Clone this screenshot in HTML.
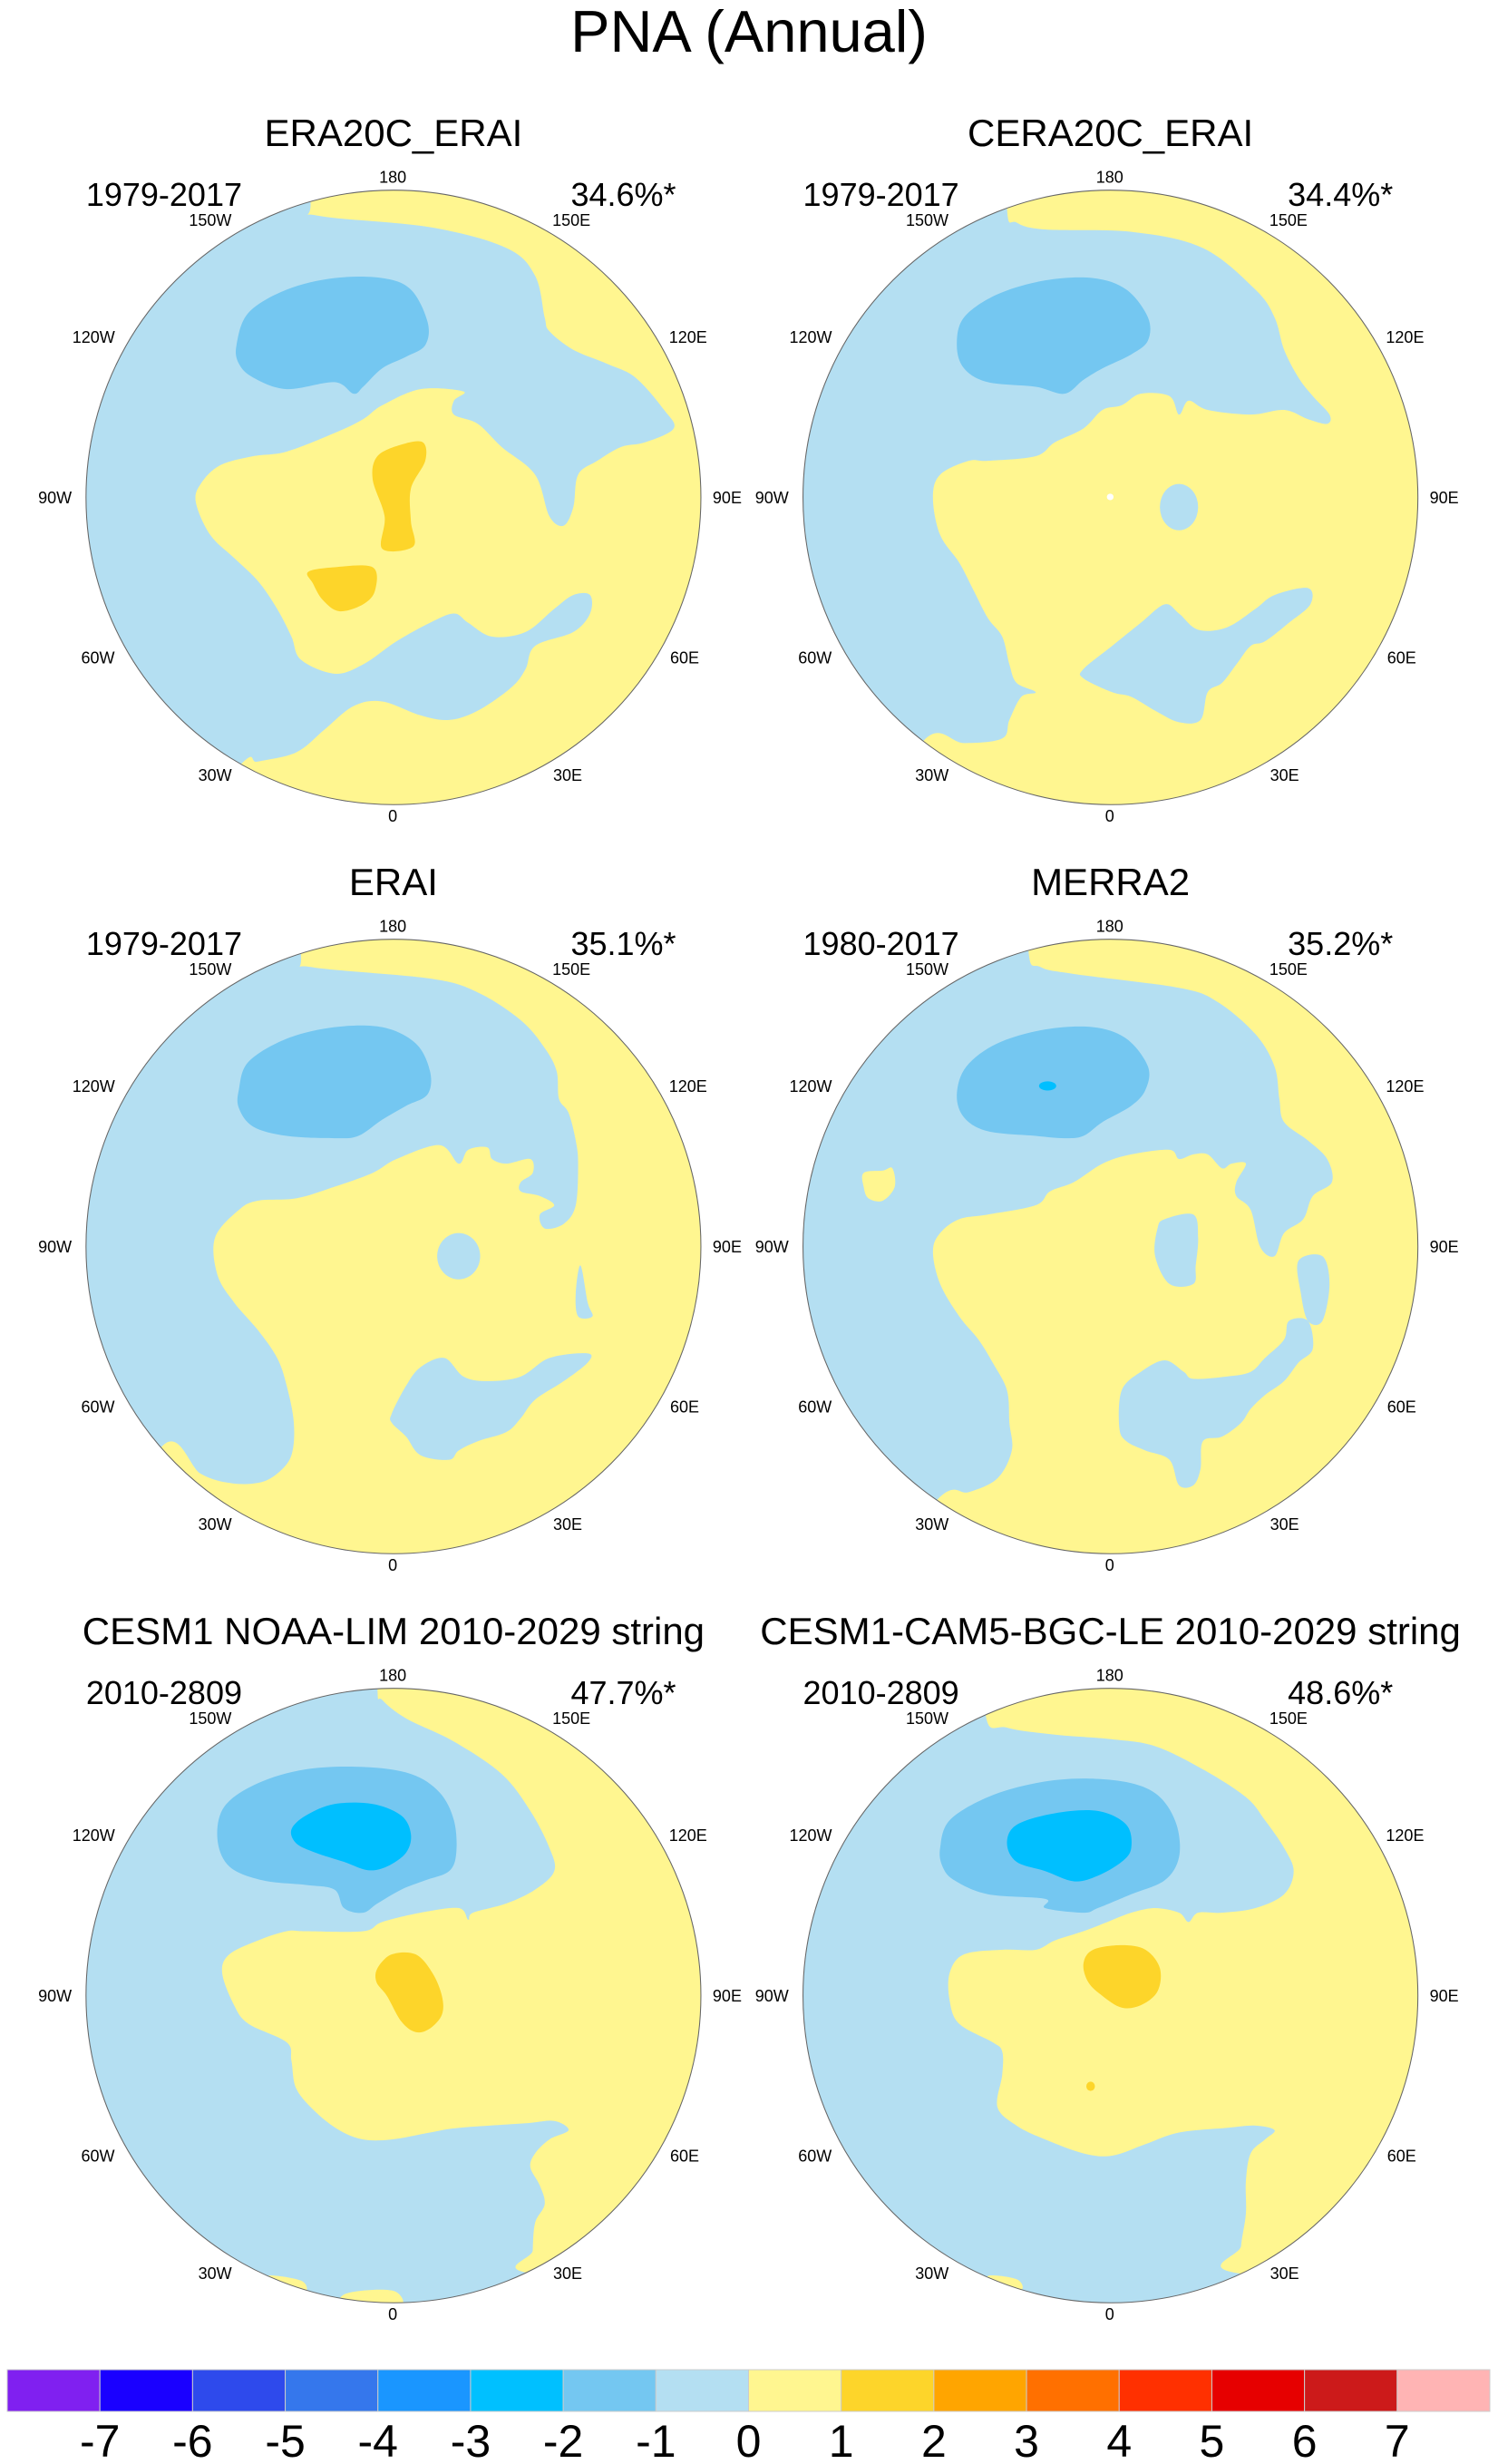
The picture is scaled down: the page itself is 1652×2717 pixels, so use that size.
<!DOCTYPE html>
<html><head><meta charset="utf-8"><style>
html,body{margin:0;padding:0;background:#fff;}
svg{display:block;font-family:"Liberation Sans",sans-serif;}
</style></head><body>
<svg id="fig" width="1652" height="2717" viewBox="0 0 1652 2717" xmlns="http://www.w3.org/2000/svg">
<defs>
<clipPath id="cL"><ellipse cx="823.5" cy="879" rx="643.5" ry="664"/></clipPath>
<clipPath id="cR"><ellipse cx="756.5" cy="879" rx="643.5" ry="664"/></clipPath>
</defs>
<text x="826" y="57" font-size="65" text-anchor="middle">PNA (Annual)</text>

<!-- Panel A -->
<g transform="translate(0,100) scale(0.5269,0.5102)">
<g clip-path="url(#cL)">
<rect x="0" y="0" width="1700" height="1700" fill="#fff690"/>
<polygon fill="#b4dff2" points="650,240 665,270 900,295 1060,340 1120,400 1140,490 1150,520 1200,560 1270,590 1330,620 1390,690 1410,730 1350,760 1300,770 1250,800 1210,830 1200,900 1180,940 1150,920 1120,830 1050,770 1000,720 950,700 950,670 970,650 880,645 800,680 760,710 700,740 600,780 530,790 460,810 420,850 410,890 440,960 490,1010 540,1060 580,1120 610,1180 630,1230 700,1260 760,1240 830,1190 900,1150 950,1130 980,1150 1030,1180 1100,1170 1160,1120 1200,1090 1235,1090 1235,1130 1200,1170 1120,1200 1100,1250 1070,1290 1000,1340 940,1360 880,1350 800,1320 740,1330 680,1380 620,1430 540,1450 500,1460 300,1700 0,1700 0,0 650,0"/>
<polygon fill="#74c7f1" points="495,550 520,480 600,430 700,405 800,405 860,430 895,500 890,550 850,575 800,600 760,640 740,655 700,630 600,645 530,620 500,590"/>
<polygon fill="#fdd52a" points="885,760 890,800 860,860 860,930 865,985 800,990 805,920 780,840 790,790 840,765"/>
<polygon fill="#fdd52a" points="645,1040 700,1030 780,1030 785,1080 760,1110 710,1125 675,1100 655,1065"/>
</g>
<ellipse cx="823.5" cy="879" rx="643.5" ry="664" fill="none" stroke="#666" stroke-width="2"/>
</g>

<!-- Panel B -->
<g transform="translate(826,100) scale(0.5269,0.5102)">
<g clip-path="url(#cR)">
<rect x="0" y="0" width="1700" height="1700" fill="#fff690"/>
<polygon fill="#b4dff2" points="540,255 560,285 620,300 800,305 950,340 1060,430 1100,490 1120,560 1150,620 1180,660 1215,700 1210,720 1170,710 1120,690 1050,700 960,690 920,670 900,700 880,660 820,655 780,680 740,690 700,730 640,760 600,790 500,800 460,800 400,830 385,880 400,960 440,1020 470,1080 500,1140 530,1180 545,1240 560,1280 600,1300 570,1310 545,1360 530,1400 450,1410 370,1400 250,1600 0,1600 0,0 540,0"/>
<polygon fill="#b4dff2" points="700,1250 760,1200 820,1150 870,1110 900,1130 940,1165 1000,1160 1060,1120 1100,1090 1170,1075 1175,1110 1130,1150 1080,1190 1050,1200 1020,1240 990,1280 960,1300 945,1360 900,1365 850,1340 800,1310 760,1300 700,1270"/>
<ellipse fill="#b4dff2" cx="900" cy="900" rx="40" ry="50"/>
<polygon fill="#74c7f1" points="435,550 450,490 520,440 620,410 720,405 790,430 835,490 835,540 800,570 740,600 700,625 660,655 600,640 500,630 450,600"/>
<ellipse fill="#fff" cx="756" cy="878" rx="7" ry="7"/>
</g>
<ellipse cx="756.5" cy="879" rx="643.5" ry="664" fill="none" stroke="#666" stroke-width="2"/>
</g>

<!-- Panel C -->
<g transform="translate(0,926) scale(0.5269,0.5102)">
<g clip-path="url(#cL)">
<rect x="0" y="0" width="1700" height="1700" fill="#fff690"/>
<polygon fill="#b4dff2" points="630,250 650,275 900,300 1000,330 1090,390 1140,450 1165,500 1170,560 1190,590 1205,650 1210,700 1205,790 1180,830 1140,840 1130,810 1160,790 1130,770 1090,760 1090,740 1115,720 1110,690 1060,700 1030,690 1020,665 980,670 960,700 920,660 830,690 780,720 700,750 620,775 540,780 500,800 450,860 455,940 490,1000 540,1060 580,1120 600,1180 615,1260 610,1330 580,1370 540,1390 480,1390 420,1370 340,1310 200,1600 0,1600 0,0 630,0"/>
<polygon fill="#b4dff2" points="820,1240 850,1180 880,1140 930,1120 970,1160 1020,1170 1090,1160 1150,1120 1230,1110 1230,1130 1180,1170 1120,1210 1090,1250 1060,1280 1000,1300 960,1320 940,1340 880,1330 850,1290 820,1260"/>
<ellipse fill="#b4dff2" cx="960" cy="900" rx="45" ry="50"/>
<polygon fill="#b4dff2" points="1215,920 1230,1000 1240,1030 1210,1030 1205,980"/>
<polygon fill="#74c7f1" points="500,540 520,480 600,430 700,405 800,405 870,440 900,500 895,550 850,575 800,605 750,640 700,645 600,640 530,620 500,580"/>
</g>
<ellipse cx="823.5" cy="879" rx="643.5" ry="664" fill="none" stroke="#666" stroke-width="2"/>
</g>

<!-- Panel D -->
<g transform="translate(826,926) scale(0.5269,0.5102)">
<g clip-path="url(#cR)">
<rect x="0" y="0" width="1700" height="1700" fill="#fff690"/>
<polygon fill="#b4dff2" points="585,240 610,275 680,290 900,320 980,350 1060,420 1100,490 1110,560 1120,610 1170,650 1210,690 1220,740 1180,770 1160,820 1120,850 1100,900 1070,880 1050,800 1020,770 1020,740 1040,700 1010,700 990,710 960,680 930,680 900,690 880,670 800,680 740,700 680,740 630,760 600,790 500,810 440,820 400,850 385,890 400,960 440,1030 480,1080 510,1130 540,1190 545,1260 550,1320 520,1380 460,1410 400,1420 250,1600 0,1600 0,0 585,0"/>
<polygon fill="#fff690" points="240,720 280,715 300,710 305,750 280,780 250,775 240,750"/>
<polygon fill="#b4dff2" points="870,820 930,810 940,860 935,920 930,960 880,960 850,900 855,840"/>
<polygon fill="#b4dff2" points="1150,910 1200,900 1215,960 1200,1040 1170,1040 1155,980"/>
<polygon fill="#b4dff2" points="780,1190 820,1150 870,1125 910,1150 930,1165 1000,1160 1050,1150 1080,1120 1120,1080 1130,1040 1170,1040 1180,1100 1150,1130 1120,1170 1080,1200 1050,1230 1030,1260 990,1290 950,1300 945,1360 930,1395 900,1395 880,1340 830,1320 790,1300 775,1270"/>
<polygon fill="#74c7f1" points="435,550 455,490 520,440 620,410 720,405 790,430 835,490 830,540 800,575 740,610 700,640 660,645 600,640 500,630 450,600"/>
<ellipse fill="#00bfff" cx="625" cy="532" rx="18" ry="10"/>
</g>
<ellipse cx="756.5" cy="879" rx="643.5" ry="664" fill="none" stroke="#666" stroke-width="2"/>
</g>

<!-- Panel E -->
<g transform="translate(0,1752) scale(0.5269,0.5102)">
<g clip-path="url(#cL)">
<rect x="0" y="0" width="1700" height="1700" fill="#b4dff2"/>
<polygon fill="#fff690" points="790,215 800,240 850,280 950,330 1050,400 1110,480 1150,560 1160,610 1120,650 1060,680 990,700 980,715 960,690 880,700 800,720 760,740 640,740 600,740 540,760 480,790 465,830 490,900 520,940 600,980 610,1020 620,1080 660,1130 710,1170 760,1190 820,1190 900,1175 960,1165 1100,1155 1160,1150 1190,1170 1150,1190 1120,1220 1110,1250 1130,1290 1140,1330 1120,1370 1115,1430 1115,1480 1600,1500 1600,0 790,0"/>
<polygon fill="#fff690" points="560,1485 630,1495 640,1520 600,1520"/>
<polygon fill="#fff690" points="720,1525 780,1515 830,1520 835,1550 720,1550"/>
<polygon fill="#74c7f1" points="455,540 470,470 540,420 640,390 760,385 860,400 920,440 950,500 955,570 940,610 890,630 840,650 790,680 760,700 720,690 700,650 640,640 550,630 480,600"/>
<polygon fill="#00bfff" points="610,520 640,490 700,465 780,465 840,490 860,530 850,570 810,600 770,608 720,590 660,570 620,550"/>
<polygon fill="#fdd52a" points="790,820 820,790 870,790 905,830 925,880 925,920 900,950 870,958 840,935 810,880 788,850"/>
</g>
<ellipse cx="823.5" cy="879" rx="643.5" ry="664" fill="none" stroke="#666" stroke-width="2"/>
</g>

<!-- Panel F -->
<g transform="translate(826,1752) scale(0.5269,0.5102)">
<g clip-path="url(#cR)">
<rect x="0" y="0" width="1700" height="1700" fill="#b4dff2"/>
<polygon fill="#fff690" points="495,270 540,300 640,315 760,325 850,340 950,390 1040,450 1080,500 1120,560 1140,610 1120,660 1060,690 990,700 940,700 920,720 900,700 850,690 800,700 750,720 700,740 640,760 600,780 530,780 450,790 420,830 420,890 440,940 510,980 530,1000 530,1050 520,1120 560,1160 620,1190 700,1220 760,1225 830,1200 900,1175 1000,1165 1060,1160 1100,1170 1080,1190 1050,1220 1040,1280 1040,1350 1030,1420 1030,1480 1600,1500 1600,0 495,0"/>
<polygon fill="#fff690" points="500,1485 560,1492 570,1515 520,1515"/>
<polygon fill="#74c7f1" points="400,560 420,500 500,450 600,420 700,410 800,420 860,450 895,510 900,580 870,630 800,660 730,690 700,700 620,690 620,670 500,660 430,630 405,600"/>
<polygon fill="#00bfff" points="540,550 560,510 640,485 730,480 790,510 800,560 780,590 730,620 680,632 620,610 560,590"/>
<polygon fill="#fdd52a" points="700,810 720,780 780,770 830,780 860,820 855,870 820,900 780,905 740,880 710,850"/>
<ellipse fill="#fdd52a" cx="715" cy="1075" rx="9" ry="10"/>
</g>
<ellipse cx="756.5" cy="879" rx="643.5" ry="664" fill="none" stroke="#666" stroke-width="2"/>
</g>

<g id="labels"></g>
<g id="colorbar"></g>
</svg>
<script>
var NS = "http://www.w3.org/2000/svg";
var panelTitles = ["ERA20C_ERAI","CERA20C_ERAI","ERAI","MERRA2","CESM1 NOAA-LIM 2010-2029 string","CESM1-CAM5-BGC-LE 2010-2029 string"];
var panelYears = ["1979-2017","1979-2017","1979-2017","1980-2017","2010-2809","2010-2809"];
var panelPcts = ["34.6%*","34.4%*","35.1%*","35.2%*","47.7%*","48.6%*"];
var lonNames = ["180","150W","150E","120W","120E","90W","90E","60W","60E","30W","30E","0"];
var lonZX = [822,440,1196,196,1440,115,1522,205,1433,450,1188,822];
var lonZY = [187,280,280,533,533,880,880,1226,1226,1480,1480,1568];
var cbLevels = ["-7","-6","-5","-4","-3","-2","-1","0","1","2","3","4","5","6","7"];
var cbColors = ["#8020f0","#1a00ff","#2e4aec","#3577ec","#1a96ff","#00c0ff","#74c7f1","#b4dff2","#fff690","#fdd52a","#ffa500","#ff7000","#ff3000","#e60000","#cc1a1a","#ffb4b4"];

// smooth contour polygons into closed Catmull-Rom curves
var polys = Array.prototype.slice.call(document.querySelectorAll("polygon"));
polys.forEach(function(pg){
  var nums = pg.getAttribute("points").trim().split(/[\s,]+/).map(Number);
  var pts = [];
  for (var i=0;i<nums.length;i+=2) pts.push([nums[i],nums[i+1]]);
  var n = pts.length, d = "M"+pts[0][0]+","+pts[0][1];
  for (var i=0;i<n;i++){
    var p0=pts[(i-1+n)%n], p1=pts[i], p2=pts[(i+1)%n], p3=pts[(i+2)%n];
    var c1x=p1[0]+(p2[0]-p0[0])/6, c1y=p1[1]+(p2[1]-p0[1])/6;
    var c2x=p2[0]-(p3[0]-p1[0])/6, c2y=p2[1]-(p3[1]-p1[1])/6;
    d += " C"+c1x+","+c1y+" "+c2x+","+c2y+" "+p2[0]+","+p2[1];
  }
  var path = document.createElementNS(NS,"path");
  path.setAttribute("d", d+"Z");
  path.setAttribute("fill", pg.getAttribute("fill"));
  
  
  pg.parentNode.replaceChild(path, pg);
});

var lg = document.getElementById("labels");
function txt(parent, x, y, s, size, anchor){
  var t = document.createElementNS(NS,"text");
  t.setAttribute("x",x); t.setAttribute("y",y);
  t.setAttribute("font-size",size); t.setAttribute("text-anchor",anchor);
  t.textContent = s; parent.appendChild(t); return t;
}
for (var p=0;p<6;p++){
  var col = p%2, row = Math.floor(p/2);
  var ox = col*826, oy = 100 + row*826;
  var shift = col ? -67 : 0;
  var cx = ox + (823.5+shift)*0.5269;
  var t1 = txt(lg, cx, oy+61, panelTitles[p], 42, "middle");
  
  
  var t2 = txt(lg, ox + (180+shift)*0.5269, oy+127, panelYears[p], 36, "start");
  
  
  var t3 = txt(lg, ox + (1415+shift)*0.5269, oy+127, panelPcts[p], 36, "end");
  
  
  for (var k=0;k<lonNames.length;k++){
    var tl = txt(lg, ox + (lonZX[k]+shift)*0.5269, oy + lonZY[k]*0.5102 + 6, lonNames[k], 18, "middle");
    
    
  }
}
var cb = document.getElementById("colorbar");
var x0 = 8, x1 = 1643, yTop = 2613, h = 46;
var bw = (x1-x0)/cbColors.length;
for (var i=0;i<cbColors.length;i++){
  var r = document.createElementNS(NS,"rect");
  r.setAttribute("x", x0+i*bw); r.setAttribute("y", yTop);
  r.setAttribute("width", bw); r.setAttribute("height", h);
  r.setAttribute("fill", cbColors[i]); r.setAttribute("stroke","#ccc"); r.setAttribute("stroke-width","1");
  
  
  cb.appendChild(r);
}
for (var j=0;j<cbLevels.length;j++){
  var tt = txt(cb, x0+(j+1)*bw, 2709, cbLevels[j], 50, "middle");
  
  
}
</script>
</body></html>
